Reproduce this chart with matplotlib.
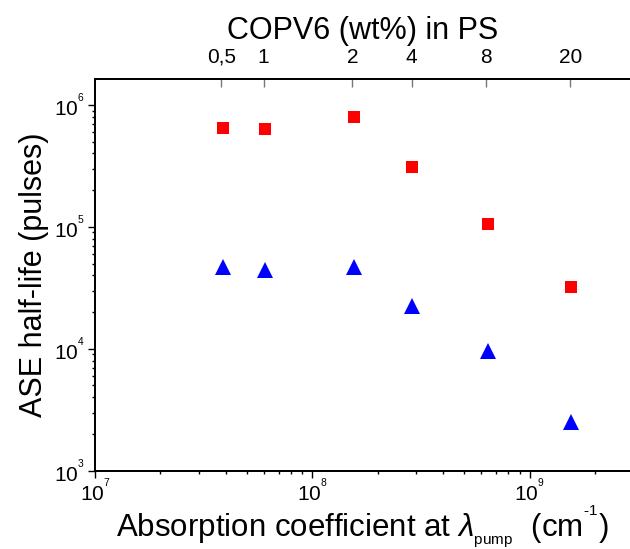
import matplotlib
matplotlib.use("Agg")
import matplotlib.pyplot as plt
import numpy as np
from matplotlib.ticker import FuncFormatter, NullLocator

plt.rcParams['font.family'] = ['Liberation Sans', 'DejaVu Sans']
plt.rcParams['mathtext.fontset'] = 'custom'
plt.rcParams['mathtext.rm'] = 'Liberation Sans'
plt.rcParams['mathtext.it'] = 'Liberation Sans:italic'

# Absorption coefficient (cm^-1) for each COPV6 concentration
absorption = [3.9e7, 6.05e7, 1.56e8, 2.87e8, 6.43e8, 1.56e9]
# ASE half-life (pulses)
halflife_squares = [6.5e5, 6.3e5, 8.0e5, 3.1e5, 1.06e5, 3.2e4]
halflife_triangles = [4.7e4, 4.4e4, 4.65e4, 2.26e4, 9.6e3, 2.5e3]

# top axis: concentration labels
top_positions = [3.82e7, 5.97e7, 1.53e8, 2.87e8, 6.28e8, 1.54e9]
top_labels = ["0,5", "1", "2", "4", "8", "20"]


def pow10(v, pos):
    # small, high exponent like the original software
    e = int(round(np.log10(v)))
    return f"$10^{{{{}}^{{{e}}}}}$"


fig = plt.figure(figsize=(6.3, 5.49), dpi=100)
ax = fig.add_axes([0.1508, 0.1426, 0.8492, 0.7134])

ax.plot(absorption, halflife_squares, linestyle='none', marker='s',
        markersize=8.6, color='#ff0000', markeredgewidth=0)
ax.plot(absorption, halflife_triangles, linestyle='none', marker='^',
        markersize=11, color='#0000ff', markeredgewidth=0)

ax.set_xscale('log')
ax.set_yscale('log')
ax.set_xlim(1e7, 2.9e9)
ax.set_ylim(1e3, 1.63e6)
ax.xaxis.set_major_formatter(FuncFormatter(pow10))
ax.yaxis.set_major_formatter(FuncFormatter(pow10))

for s in ax.spines.values():
    s.set_linewidth(1.3)
ax.spines['right'].set_visible(False)

ax.tick_params(which='both', direction='out', width=1, labelsize=15, top=True, right=False)
ax.tick_params(which='major', length=5)
ax.tick_params(which='minor', length=2.5)
ax.tick_params(axis='x', which='major', top=False)
ax.tick_params(axis='x', pad=1)
ax.tick_params(axis='y', pad=2)

ax.set_xlabel("Absorption coefficient at $\\lambda_{{}_{\\rm pump}}$  (cm$^{{}^{\u2010 1}}$)",
              fontsize=22.5, labelpad=-1)
ax.set_ylabel("ASE half-life (pulses)", fontsize=22, labelpad=4)

# top axis with COPV6 concentration
ax2 = ax.twiny()
ax2.set_xscale('log')
ax2.set_xlim(ax.get_xlim())
ax2.set_xticks(top_positions)
ax2.set_xticklabels(top_labels)
ax2.xaxis.set_minor_locator(NullLocator())
ax2.tick_params(axis='x', direction='in', length=6, width=1, color='#777777', labelsize=15, pad=9)
ax2.spines['right'].set_visible(False)
for s in ax2.spines.values():
    s.set_linewidth(1.3)
ax2.set_xlabel("COPV6 (wt%) in PS", fontsize=22, labelpad=6)

fig.savefig("out.png", dpi=100)
